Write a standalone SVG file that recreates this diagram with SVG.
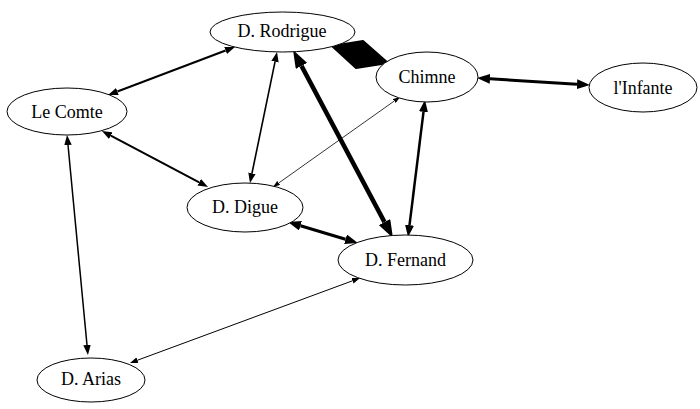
<svg xmlns="http://www.w3.org/2000/svg" width="700" height="409" viewBox="0 0 700 409">
<style>
.node ellipse{fill:#fff;stroke:#000;stroke-width:1}
.node text{font-size:18px;fill:#000;text-anchor:middle}
.edge{fill:none;stroke:#000}
</style>
<defs>
<marker id="a7" viewBox="0 0 7 5" refX="0" refY="2.5" markerWidth="7" markerHeight="5" markerUnits="userSpaceOnUse" orient="auto-start-reverse"><path d="M0,0L7,2.5L0,5Z"/></marker>
<marker id="a8" viewBox="0 0 8 6" refX="0" refY="3" markerWidth="8" markerHeight="6" markerUnits="userSpaceOnUse" orient="auto-start-reverse"><path d="M0,0L8,3L0,6Z"/></marker>
<marker id="a10" viewBox="0 0 10 7.5" refX="0" refY="3.75" markerWidth="10" markerHeight="7.5" markerUnits="userSpaceOnUse" orient="auto-start-reverse"><path d="M0,0L10,3.75L0,7.5Z"/></marker>
<marker id="a12" viewBox="0 0 12 9" refX="0" refY="4.5" markerWidth="12" markerHeight="9" markerUnits="userSpaceOnUse" orient="auto-start-reverse"><path d="M0,0L12,4.5L0,9Z"/></marker>
<marker id="a13" viewBox="0 0 13 10" refX="0" refY="5" markerWidth="13" markerHeight="10" markerUnits="userSpaceOnUse" orient="auto-start-reverse"><path d="M0,0L13,5L0,10Z"/></marker>
<marker id="a18" viewBox="0 0 18 13" refX="0" refY="6.5" markerWidth="18" markerHeight="13" markerUnits="userSpaceOnUse" orient="auto-start-reverse"><path d="M0,0L18,6.5L0,13Z"/></marker>
</defs>
<g id="edges">
<path class="edge" d="M225.6,50.5L117.4,91.5" stroke-width="2" marker-start="url(#a10)" marker-end="url(#a10)"/>
<path class="edge" d="M275,61.8L252,173.2" stroke-width="1.6" marker-start="url(#a10)" marker-end="url(#a10)"/>
<path class="edge" d="M301.5,65.9L384.5,222.1" stroke-width="4.5" marker-start="url(#a18)" marker-end="url(#a18)"/>
<polygon points="332,46 363,41 388,63 356,68" fill="#000" stroke="#000" stroke-width="2" stroke-linejoin="round"/>
<path class="edge" d="M490,78.8L577,84.2" stroke-width="3" marker-start="url(#a13)" marker-end="url(#a13)"/>
<path class="edge" d="M423.5,111.9L409.5,225.1" stroke-width="2.5" marker-start="url(#a12)" marker-end="url(#a12)"/>
<path class="edge" d="M394.3,101L278.7,183" stroke-width="0.8" marker-start="url(#a7)" marker-end="url(#a7)"/>
<path class="edge" d="M110.8,135.7L199.2,182.3" stroke-width="2" marker-start="url(#a10)" marker-end="url(#a10)"/>
<path class="edge" d="M68,145L87,345" stroke-width="1.5" marker-start="url(#a10)" marker-end="url(#a10)"/>
<path class="edge" d="M300.5,225.7L345.5,239.3" stroke-width="3" marker-start="url(#a13)" marker-end="url(#a13)"/>
<path class="edge" d="M352.5,280.8L137.5,360.2" stroke-width="1" marker-start="url(#a8)" marker-end="url(#a8)"/>
</g>
<g font-family="'Liberation Serif', 'Times New Roman', Times, serif">
<g id="rodrigue" class="node"><ellipse cx="282.5" cy="32" rx="72.5" ry="20"/><text x="282" y="37">D. Rodrigue</text></g>
<g id="chimne" class="node"><ellipse cx="427" cy="77" rx="51" ry="25"/><text x="427" y="83">Chimne</text></g>
<g id="lecomte" class="node"><ellipse cx="67" cy="111.5" rx="60" ry="23.5"/><text x="67" y="117.5">Le Comte</text></g>
<g id="digue" class="node"><ellipse cx="245" cy="207.5" rx="58" ry="24.5"/><text x="245" y="213">D. Digue</text></g>
<g id="fernand" class="node"><ellipse cx="405.5" cy="260" rx="67.5" ry="25"/><text x="405.5" y="266">D. Fernand</text></g>
<g id="arias" class="node"><ellipse cx="91" cy="380" rx="54" ry="22"/><text x="91" y="385">D. Arias</text></g>
<g id="infante" class="node"><ellipse cx="643" cy="87.5" rx="54" ry="24.5"/><text x="643" y="94">l'Infante</text></g>
</g>
</svg>
